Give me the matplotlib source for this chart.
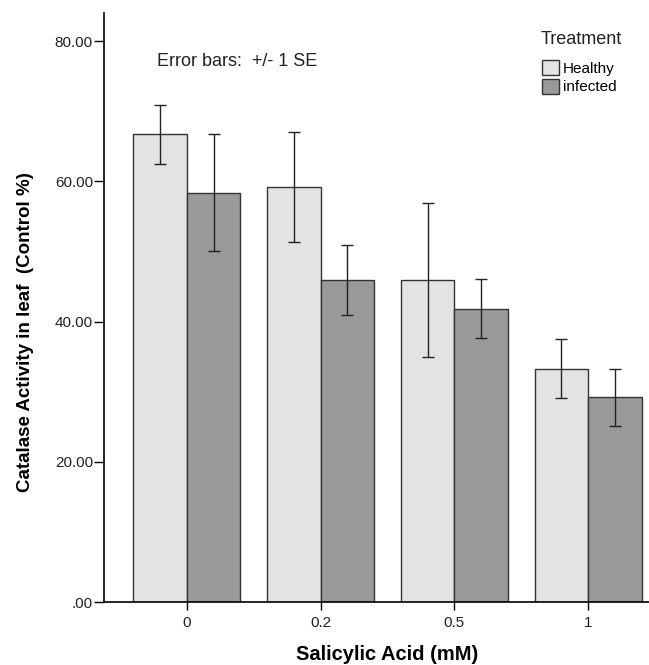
import matplotlib
matplotlib.use("Agg")
import matplotlib.pyplot as plt
import numpy as np

plt.rcParams['font.family'] = ['Liberation Sans', 'DejaVu Sans']

# data
doses = ['0', '0.2', '0.5', '1']
healthy = [66.7, 59.2, 45.9, 33.3]
healthy_se = [4.2, 7.9, 11.0, 4.15]
infected = [58.4, 45.9, 41.8, 29.2]
infected_se = [8.3, 5.0, 4.2, 4.1]
yticks = [0, 20, 40, 60, 80]
ytick_labels = ['.00', '20.00', '40.00', '60.00', '80.00']

fig = plt.figure(figsize=(6.49, 6.65), dpi=100)
ax = fig.add_axes([104 / 649, 63 / 665, 545 / 649, 589 / 665])

x = np.arange(len(doses))
w = 0.4
err_kw = dict(ecolor='#222222', elinewidth=1, capsize=4, capthick=1)
ax.bar(x - w / 2, healthy, w, yerr=healthy_se, color='#e3e3e3',
       edgecolor='#333333', linewidth=1, label='Healthy', error_kw=err_kw)
ax.bar(x + w / 2, infected, w, yerr=infected_se, color='#999999',
       edgecolor='#333333', linewidth=1, label='infected', error_kw=err_kw)

ax.set_xlim(-0.62, 3.455)
ax.set_ylim(0, 84)
ax.set_xticks(x)
ax.set_xticklabels(doses, fontsize=11, color='#222222')
ax.set_yticks(yticks)
ax.set_yticklabels(ytick_labels, fontsize=11, color='#222222')
ax.tick_params(axis='y', length=7, width=1, pad=1)
ax.tick_params(axis='x', length=6, width=1, pad=4)

for s in ['top', 'right']:
    ax.spines[s].set_visible(False)
for s in ['left', 'bottom']:
    ax.spines[s].set_linewidth(1.2)

ax.set_xlabel('Salicylic Acid (mM)', fontsize=14.5, fontweight='bold')
ax.xaxis.set_label_coords((387 - 104) / 545, -(655 - 602) / 589)
ax.xaxis.label.set_va('center')
ax.set_ylabel('Catalase Activity in leaf  (Control %)', fontsize=13.5,
              fontweight='bold')
ax.yaxis.set_label_coords((26 - 104) / 545, (602 - 332) / 589)
ax.yaxis.label.set_va('center')

fig.text(237 / 649, 1 - 62 / 665, 'Error bars:  +/- 1 SE', fontsize=13,
         ha='center', va='center', color='#222222')

# legend
fig.text(541 / 649, 1 - 40 / 665, 'Treatment', fontsize=13,
         ha='left', va='center', color='#222222')
ax.legend(loc='upper left', bbox_to_anchor=(542 / 649, 1 - 60 / 665),
          bbox_transform=fig.transFigure, frameon=False,
          fontsize=11, handlelength=1.1, handleheight=1.1, handletextpad=0.25,
          labelspacing=0.22, borderpad=0, borderaxespad=0)

fig.savefig('out.png', dpi=100)
